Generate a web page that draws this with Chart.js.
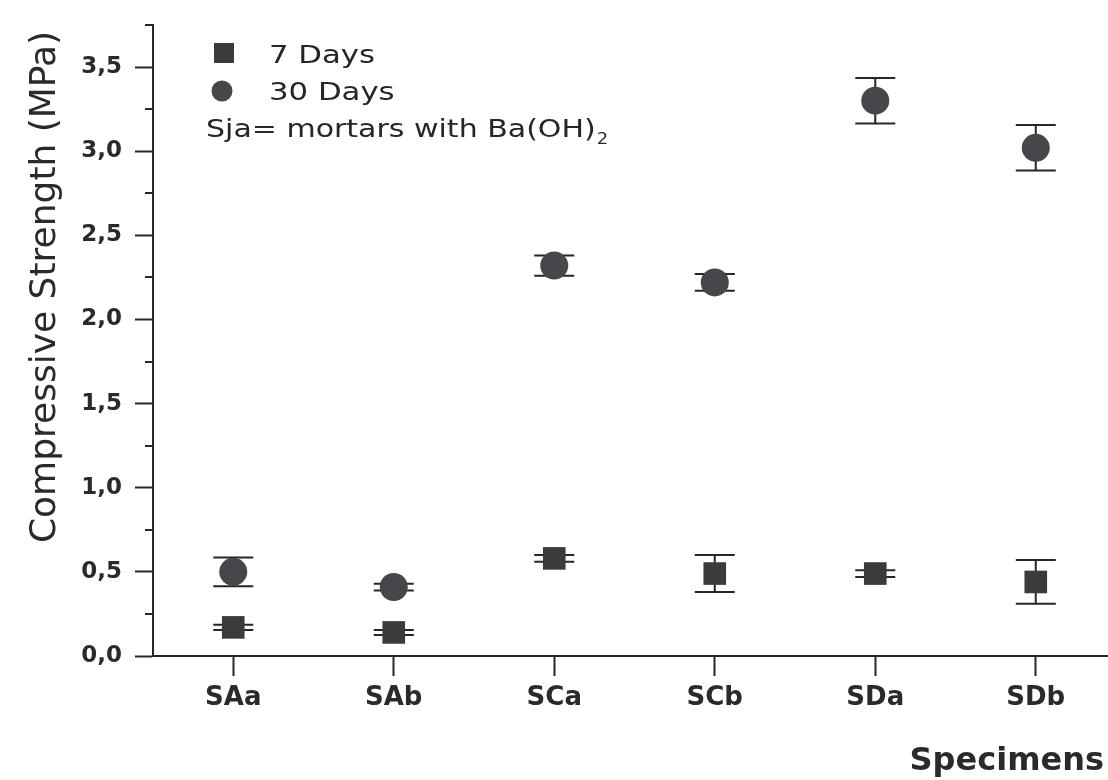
<!DOCTYPE html>
<html>
<head>
<meta charset="utf-8">
<script src="https://cdn.jsdelivr.net/npm/chart.js@4/dist/chart.umd.min.js"></script>
<style>
  html, body { margin: 0; padding: 0; background: #ffffff; }
  #wrap { width: 1108px; height: 780px; position: relative; }
</style>
</head>
<body>
<div id="wrap"><canvas id="c"></canvas></div>
<script>
// ---- data ----
const categories = ['SAa', 'SAb', 'SCa', 'SCb', 'SDa', 'SDb'];
const days7 = [0.17, 0.14, 0.58, 0.49, 0.49, 0.44];
const days7Err = [0.015, 0.015, 0.02, 0.11, 0.02, 0.13];
const days30 = [0.50, 0.41, 2.32, 2.22, 3.30, 3.02];
const days30Err = [0.085, 0.02, 0.06, 0.05, 0.135, 0.135];
const yTicks = [0, 0.5, 1.0, 1.5, 2.0, 2.5, 3.0, 3.5];
const yMinorTicks = [0.25, 0.75, 1.25, 1.75, 2.25, 2.75, 3.25, 3.75];
const seriesNames = ['7 Days', '30 Days'];
const noteText = 'Sja= mortars with Ba(OH)';
const noteSub = '2';
const yTitle = 'Compressive Strength (MPa)';
const xTitle = 'Specimens';

const INK = '#262626';
const SQ = '#3b3b3b';
const CI = '#46464b';

const toPts = (vals, errs) => vals.map((v, i) => ({ x: i, y: v, err: errs[i] }));

const extras = {
  id: 'extras',
  beforeDatasetsDraw(chart) {
    const ctx = chart.ctx, xs = chart.scales.x, ys = chart.scales.y;
    ctx.save();
    ctx.strokeStyle = INK;
    ctx.lineWidth = 2;
    chart.data.datasets.forEach(ds => {
      ds.data.forEach(p => {
        const px = xs.getPixelForValue(p.x);
        const top = ys.getPixelForValue(p.y + p.err);
        const bot = ys.getPixelForValue(p.y - p.err);
        const hw = 20;
        ctx.beginPath();
        ctx.moveTo(px, top); ctx.lineTo(px, bot);
        ctx.moveTo(px - hw, top); ctx.lineTo(px + hw, top);
        ctx.moveTo(px - hw, bot); ctx.lineTo(px + hw, bot);
        ctx.stroke();
      });
    });
    ctx.restore();
  },
  afterDraw(chart) {
    const ctx = chart.ctx, ys = chart.scales.y, area = chart.chartArea;
    ctx.save();
    // minor ticks on y axis
    ctx.strokeStyle = INK;
    ctx.lineWidth = 2;
    yMinorTicks.forEach(v => {
      const py = Math.round(ys.getPixelForValue(v));
      ctx.beginPath();
      ctx.moveTo(area.left - 8, py); ctx.lineTo(area.left, py);
      ctx.stroke();
    });

    // legend (inside plot, top-left)
    ctx.fillStyle = SQ;
    ctx.fillRect(214, 43, 20, 20);
    ctx.fillStyle = CI;
    ctx.beginPath(); ctx.arc(222, 91, 10.5, 0, Math.PI * 2); ctx.fill();

    const stretchText = (txt, x, y, font, sx) => {
      ctx.save();
      ctx.translate(x, y);
      ctx.scale(sx, 1);
      ctx.font = font;
      ctx.fillText(txt, 0, 0);
      const w = ctx.measureText(txt).width * sx;
      ctx.restore();
      return w;
    };
    ctx.fillStyle = '#262626';
    ctx.textAlign = 'left';
    ctx.textBaseline = 'alphabetic';
    const lf = '25px "DejaVu Sans"';
    stretchText(seriesNames[0], 269, 63, lf, 1.23);
    stretchText(seriesNames[1], 269, 100, lf, 1.23);
    const w = stretchText(noteText, 206, 137, lf, 1.2);
    stretchText(noteSub, 206 + w + 1, 144, '15px "DejaVu Sans"', 1.2);

    // y axis title
    ctx.save();
    ctx.translate(55, 287);
    ctx.rotate(-Math.PI / 2);
    ctx.font = '36px "DejaVu Sans"';
    ctx.fillStyle = '#2a2a2a';
    ctx.textAlign = 'center';
    ctx.textBaseline = 'alphabetic';
    ctx.fillText(yTitle, 0, 0);
    ctx.restore();

    // x axis title
    ctx.font = 'bold 32px "DejaVu Sans"';
    ctx.fillStyle = '#2a2a2a';
    ctx.textAlign = 'right';
    ctx.textBaseline = 'alphabetic';
    ctx.fillText(xTitle, 1104, 770);
    ctx.restore();
  }
};

new Chart(document.getElementById('c'), {
  type: 'scatter',
  data: {
    datasets: [
      {
        label: seriesNames[0],
        data: toPts(days7, days7Err),
        pointStyle: 'rect',
        pointRadius: 16,
        pointHoverRadius: 16,
        backgroundColor: SQ,
        borderColor: SQ,
        borderWidth: 0,
        showLine: false
      },
      {
        label: seriesNames[1],
        data: toPts(days30, days30Err),
        pointStyle: 'circle',
        pointRadius: 14,
        pointHoverRadius: 14,
        backgroundColor: CI,
        borderColor: CI,
        borderWidth: 0,
        showLine: false
      }
    ]
  },
  options: {
    responsive: true,
    maintainAspectRatio: false,
    animation: false,
    events: [],
    layout: { autoPadding: false, padding: { top: 25, right: 0, bottom: 0, left: 0 } },
    plugins: {
      legend: { display: false },
      tooltip: { enabled: false },
      title: { display: false }
    },
    scales: {
      x: {
        type: 'linear',
        min: -0.5,
        max: 5.45,
        afterBuildTicks: s => { s.ticks = categories.map((c, i) => ({ value: i })); },
        afterFit: s => { s.height = 124; s.paddingLeft = 0; s.paddingRight = 0; },
        grid: { drawOnChartArea: false, drawTicks: true, tickLength: 20, tickColor: INK, tickWidth: 2 },
        border: { display: true, color: INK, width: 2 },
        ticks: {
          autoSkip: false,
          maxRotation: 0,
          padding: 7,
          color: '#2a2a2a',
          font: { family: '"DejaVu Sans"', size: 26, weight: 'bold' },
          callback: v => categories[v]
        }
      },
      y: {
        type: 'linear',
        min: 0,
        max: 3.75,
        afterBuildTicks: s => { s.ticks = yTicks.map(v => ({ value: v })); },
        afterFit: s => { s.width = 153; s.paddingTop = 0; s.paddingBottom = 0; },
        grid: { drawOnChartArea: false, drawTicks: true, tickLength: 18, tickColor: INK, tickWidth: 2 },
        border: { display: true, color: INK, width: 2 },
        ticks: {
          padding: 13,
          color: '#2a2a2a',
          font: { family: '"DejaVu Sans"', size: 23, weight: 'bold' },
          callback: v => v.toFixed(1).replace('.', ',')
        }
      }
    }
  },
  plugins: [extras]
});
</script>
</body>
</html>
